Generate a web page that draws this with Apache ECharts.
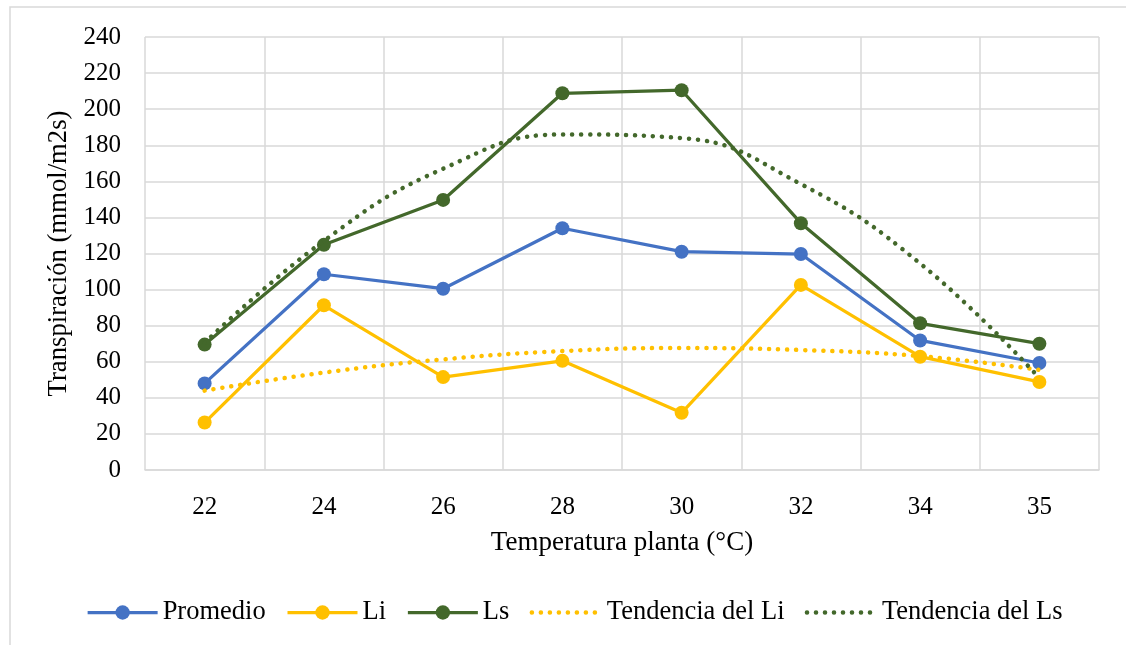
<!DOCTYPE html>
<html>
<head>
<meta charset="utf-8">
<script src="https://cdn.jsdelivr.net/npm/echarts@6/dist/echarts.min.js"></script>
<style>
  html, body { margin: 0; padding: 0; background: #fff; }
  #chart { width: 1126px; height: 645px; }
</style>
</head>
<body>
<div id="chart"></div>
<script>
// Plant temperature (°C) categories
const temperatures = ['22', '24', '26', '28', '30', '32', '34', '35'];

// Transpiration (mmol/m2s)
const promedio = [48, 108.5, 100.5, 134, 121, 119.7, 71.8, 59.3];
const li = [26.3, 91.3, 51.5, 60.5, 31.7, 102.6, 62.8, 48.8];
const ls = [69.5, 124.8, 149.7, 208.8, 210.5, 136.8, 81.3, 70];

// Polynomial trend lines of Li and Ls, read at each temperature
const trendLi = [44, 54, 61.3, 65.9, 67.6, 66.5, 63.1, 55.5];
const trendLs = [70.5, 127, 167, 186, 184, 158.5, 114.5, 51];

const yTicks = { min: 0, max: 240, step: 20 };

const FONT = 'Liberation Serif';
const GRID_COLOR = '#d9d9d9';
const BLUE = '#4472C4';
const GOLD = '#FFC000';
const GREEN = '#43682B';

const SOLID = { width: 3.25 };
const DOTS = { width: 4.5, type: [0.1, 8.9], cap: 'round' };

const chart = echarts.init(document.getElementById('chart'), null, { renderer: 'canvas' });

function dataLine(name, data, color) {
  return {
    name: name,
    type: 'line',
    data: data,
    symbol: 'circle',
    symbolSize: 14,
    color: color,
    lineStyle: Object.assign({ color: color }, SOLID),
    itemStyle: { color: color },
    emphasis: { disabled: true },
    z: 3
  };
}

function trendLine(name, data, color) {
  return {
    name: name,
    type: 'line',
    data: data,
    smooth: 0.45,
    symbol: 'none',
    color: color,
    lineStyle: Object.assign({ color: color }, DOTS),
    emphasis: { disabled: true },
    z: 4
  };
}

chart.setOption({
  backgroundColor: '#fff',
  animation: false,
  textStyle: { fontFamily: FONT, color: '#000' },
  graphic: [{
    type: 'rect',
    shape: { x: 10, y: 7, width: 1140, height: 660 },
    style: { fill: 'none', stroke: GRID_COLOR, lineWidth: 1.5 },
    silent: true,
    z: -10
  }],
  grid: { left: 145, top: 37, right: 27, bottom: 175, containLabel: false },
  legend: {
    left: 81,
    top: 594,
    itemWidth: 70,
    itemHeight: 18,
    itemGap: 20.2,
    textStyle: { fontFamily: FONT, fontSize: 26.5, color: '#000' },
    data: [
      { name: 'Promedio', lineStyle: Object.assign({ color: BLUE }, SOLID) },
      { name: 'Li', lineStyle: Object.assign({ color: GOLD }, SOLID) },
      { name: 'Ls', lineStyle: Object.assign({ color: GREEN }, SOLID) },
      { name: 'Tendencia del Li', itemStyle: { opacity: 0 }, lineStyle: Object.assign({ color: GOLD }, DOTS) },
      { name: 'Tendencia del Ls', itemStyle: { opacity: 0 }, lineStyle: Object.assign({ color: GREEN }, DOTS) }
    ]
  },
  xAxis: {
    type: 'category',
    data: temperatures,
    boundaryGap: true,
    name: 'Temperatura planta (°C)',
    nameLocation: 'middle',
    nameGap: 59,
    nameTextStyle: { fontFamily: FONT, fontSize: 27, color: '#000' },
    axisLine: { show: true, lineStyle: { color: GRID_COLOR, width: 1.5 } },
    axisTick: { show: false },
    axisLabel: { interval: 0, margin: 25, fontFamily: FONT, fontSize: 25, color: '#000' },
    splitLine: { show: true, interval: 0, lineStyle: { color: GRID_COLOR, width: 1.5 } }
  },
  yAxis: {
    type: 'value',
    min: yTicks.min,
    max: yTicks.max,
    interval: yTicks.step,
    name: 'Transpiración (mmol/m2s)',
    nameLocation: 'middle',
    nameGap: 67,
    nameTextStyle: { fontFamily: FONT, fontSize: 26.7, color: '#000' },
    axisLine: { show: false },
    axisTick: { show: false },
    axisLabel: { margin: 24, fontFamily: FONT, fontSize: 25, color: '#000' },
    splitLine: { show: true, lineStyle: { color: GRID_COLOR, width: 1.5 } }
  },
  series: [
    dataLine('Promedio', promedio, BLUE),
    dataLine('Li', li, GOLD),
    dataLine('Ls', ls, GREEN),
    trendLine('Tendencia del Li', trendLi, GOLD),
    trendLine('Tendencia del Ls', trendLs, GREEN)
  ]
});
</script>
</body>
</html>
